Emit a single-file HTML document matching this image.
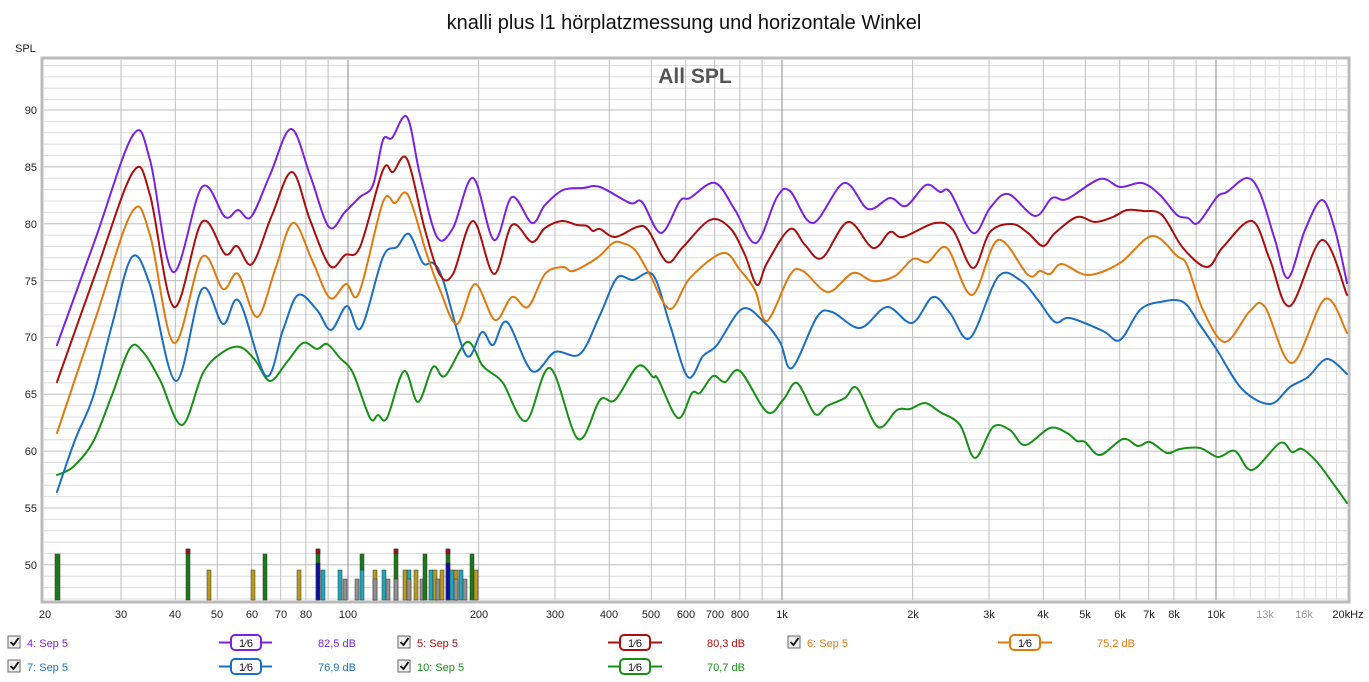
<!DOCTYPE html>
<html><head><meta charset="utf-8"><style>
html,body{margin:0;padding:0;background:#fff;}
svg{display:block;font-family:"Liberation Sans",sans-serif;}
</style></head><body>
<svg id="chart" width="1369" height="682" viewBox="0 0 1369 682" xmlns="http://www.w3.org/2000/svg">
<rect width="1369" height="682" fill="#fff"/>
<text x="684" y="29" font-size="20" text-anchor="middle" fill="#111">knalli plus l1 hörplatzmessung und horizontale Winkel</text>
<text x="15" y="52" font-size="11" fill="#222">SPL</text>
<rect x="42" y="58" width="1307" height="544" fill="#fff" stroke="#bbb" stroke-width="3"/>
<g stroke="#dcdcdc" stroke-width="1">
<path d="M44 65.5H1347M44 76.9H1347M44 88.3H1347M44 99.6H1347M44 121.4H1347M44 132.7H1347M44 144.1H1347M44 155.5H1347M44 178.2H1347M44 189.6H1347M44 201H1347M44 212.3H1347M44 235.1H1347M44 246.5H1347M44 257.8H1347M44 269.2H1347M44 291.9H1347M44 303.3H1347M44 314.7H1347M44 326H1347M44 348.8H1347M44 360.2H1347M44 371.5H1347M44 382.9H1347M44 405.6H1347M44 417H1347M44 428.4H1347M44 439.7H1347M44 462.5H1347M44 473.9H1347M44 485.2H1347M44 496.6H1347M44 519.3H1347M44 530.7H1347M44 542.1H1347M44 553.4H1347M44 576.2H1347M44 587.6H1347M44 599H1347"/>
<path d="M1234 60V600M1250.4 60V600M1265.2 60V600M1279.2 60V600M1292 60V600M1304.2 60V600M1315.6 60V600M1326.4 60V600M1336.5 60V600"/>
</g>
<g stroke="#bdbdbd" stroke-width="1">
<path d="M44 110H1347M44 166.9H1347M44 223.7H1347M44 280.6H1347M44 337.4H1347M44 394.3H1347M44 451.1H1347M44 508H1347M44 564.8H1347"/>
<path d="M121 60V600M175.3 60V600M217.3 60V600M251.7 60V600M280.7 60V600M305.9 60V600M328.1 60V600M478.6 60V600M555 60V600M609.3 60V600M651.3 60V600M685.7 60V600M714.7 60V600M739.9 60V600M762.1 60V600M912.6 60V600M989 60V600M1043.3 60V600M1085.3 60V600M1119.7 60V600M1148.7 60V600M1173.9 60V600M1196.1 60V600"/>
</g>
<path d="M348 60V600M782 60V600M1216 60V600" stroke="#888" stroke-width="1"/>
<text x="695" y="83" font-size="21" font-weight="bold" text-anchor="middle" fill="#555">All SPL</text>
<g font-size="11" fill="#222" text-anchor="end">
<text x="37" y="114">90</text><text x="37" y="171">85</text><text x="37" y="228">80</text><text x="37" y="285">75</text><text x="37" y="341">70</text><text x="37" y="398">65</text><text x="37" y="455">60</text><text x="37" y="512">55</text><text x="37" y="569">50</text>
</g>
<g font-size="11" fill="#222" text-anchor="middle">
<text x="45" y="618">20</text><text x="121" y="618">30</text><text x="175" y="618">40</text><text x="217" y="618">50</text><text x="252" y="618">60</text><text x="281" y="618">70</text><text x="306" y="618">80</text><text x="348" y="618">100</text><text x="479" y="618">200</text><text x="555" y="618">300</text><text x="609" y="618">400</text><text x="651" y="618">500</text><text x="686" y="618">600</text><text x="715" y="618">700</text><text x="740" y="618">800</text><text x="782" y="618">1k</text><text x="913" y="618">2k</text><text x="989" y="618">3k</text><text x="1043" y="618">4k</text><text x="1085" y="618">5k</text><text x="1120" y="618">6k</text><text x="1149" y="618">7k</text><text x="1174" y="618">8k</text><text x="1216" y="618">10k</text><text x="1265" y="618" fill="#999">13k</text><text x="1304" y="618" fill="#999">16k</text><text x="1348" y="618">20kHz</text>
</g>
<g stroke="#333" stroke-width="0.5">
<rect x="55" y="554" width="5" height="46" fill="#1a7a1a"/>
<rect x="186" y="549" width="4" height="51" fill="#1a7a1a"/><rect x="186" y="549" width="4" height="5" fill="#a01010"/>
<rect x="207" y="570" width="4" height="30" fill="#b89a20"/>
<rect x="251" y="570" width="4" height="30" fill="#b89a20"/>
<rect x="263" y="554" width="4" height="46" fill="#1a7a1a"/>
<rect x="297" y="570" width="4" height="30" fill="#b89a20"/>
<rect x="316" y="549" width="4" height="51" fill="#1a7a1a"/><rect x="316" y="549" width="4" height="5" fill="#a01010"/><rect x="316" y="563" width="4" height="37" fill="#1010a0"/>
<rect x="321" y="570" width="4" height="30" fill="#20a8b8"/>
<rect x="338" y="570" width="4" height="30" fill="#20a8b8"/>
<rect x="343" y="579" width="4" height="21" fill="#909090"/>
<rect x="355" y="579" width="4" height="21" fill="#909090"/>
<rect x="360" y="570" width="4" height="30" fill="#20a8b8"/>
<rect x="360" y="554" width="4" height="16" fill="#1a7a1a"/>
<rect x="373" y="570" width="4" height="30" fill="#b89a20"/><rect x="373" y="579" width="4" height="21" fill="#909090"/>
<rect x="382" y="570" width="4" height="30" fill="#20a8b8"/>
<rect x="386" y="579" width="4" height="21" fill="#909090"/>
<rect x="394" y="549" width="4" height="51" fill="#1a7a1a"/><rect x="394" y="549" width="4" height="5" fill="#a01010"/><rect x="394" y="579" width="4" height="21" fill="#909090"/>
<rect x="403" y="570" width="4" height="30" fill="#b89a20"/>
<rect x="407" y="570" width="4" height="30" fill="#20a8b8"/><rect x="407" y="579" width="4" height="21" fill="#909090"/>
<rect x="414" y="570" width="4" height="30" fill="#b89a20"/>
<rect x="420" y="579" width="4" height="21" fill="#909090"/>
<rect x="423" y="554" width="4" height="46" fill="#1a7a1a"/>
<rect x="429" y="570" width="4" height="30" fill="#20a8b8"/>
<rect x="433" y="570" width="4" height="30" fill="#b89a20"/>
<rect x="436" y="579" width="4" height="21" fill="#909090"/>
<rect x="440" y="570" width="4" height="30" fill="#b89a20"/>
<rect x="446" y="549" width="4" height="51" fill="#1a7a1a"/><rect x="446" y="549" width="4" height="5" fill="#a01010"/><rect x="446" y="563" width="4" height="37" fill="#1010a0"/>
<rect x="450" y="570" width="4" height="30" fill="#20a8b8"/>
<rect x="454" y="570" width="4" height="30" fill="#b89a20"/><rect x="454" y="579" width="4" height="21" fill="#909090"/>
<rect x="459" y="570" width="4" height="30" fill="#20a8b8"/>
<rect x="463" y="579" width="4" height="21" fill="#909090"/>
<rect x="470" y="554" width="4" height="46" fill="#1a7a1a"/>
<rect x="474" y="570" width="4" height="30" fill="#b89a20"/>
</g>
<g id="curves" fill="none" stroke-width="2" stroke-linejoin="round" stroke-linecap="round">
<polyline stroke="#189018" points="57,475 73,467 93,442 112,395 130,348 143,352 160,380 182,425 203,373 223,352 240,347 255,360 270,381 287,362 303,343 317,349 327,344 340,358 353,373 370,418 378,415 387,418 404,371 418,402 433,367 445,376 467,342 482,365 490,372 503,383 526,421 550,368 578,439 600,400 615,400 638,366 653,377 658,379 678,418 692,393 700,393 713,376 725,382 740,371 767,412 783,400 797,383 815,414 827,406 845,398 857,388 878,427 897,410 910,409 925,403 940,412 960,425 975,458 993,427 1010,430 1025,445 1050,428 1067,433 1077,441 1085,442 1100,455 1123,439 1138,446 1150,442 1167,453 1180,449 1200,448 1218,457 1235,451 1252,470 1280,443 1292,452 1302,449 1317,462 1332,482 1347,503"/>
<polyline stroke="#1a6fc4" points="57,492 75,440 93,397 112,325 132,257 150,285 176,381 202,289 223,324 239,301 266,376 283,330 298,295 317,310 331,330 347,306 361,328 383,257 397,247 409,234 423,263 433,263 443,280 466,355 482,332 493,345 507,322 532,371 555,352 580,354 600,315 617,278 633,280 653,275 670,325 688,377 703,356 717,345 742,309 763,321 780,342 792,368 817,317 832,312 860,328 887,307 912,323 933,297 950,313 970,338 998,277 1020,280 1038,300 1055,322 1070,318 1103,331 1120,340 1140,310 1160,302 1183,302 1200,325 1217,350 1242,389 1270,404 1290,387 1308,377 1327,359 1347,374"/>
<polyline stroke="#e07a10" points="57,433 95,320 132,212 150,235 174,343 202,257 223,289 238,274 257,317 275,270 293,223 312,260 330,298 346,284 359,293 383,202 395,203 408,195 427,255 440,290 457,324 475,284 495,320 512,297 528,307 545,274 563,267 573,271 597,258 613,243 622,243 635,250 650,275 670,309 690,278 723,253 740,270 755,290 767,321 790,275 803,271 828,292 853,273 873,281 895,276 913,259 928,262 947,248 972,295 998,240 1028,275 1040,271 1050,274 1062,264 1088,275 1120,263 1152,236 1177,256 1187,265 1203,310 1225,342 1250,311 1265,307 1292,363 1325,299 1347,333"/>
<polyline stroke="#aa0e0e" points="57,382 95,275 133,172 150,195 174,307 202,222 225,254 237,246 252,264 272,215 292,172 310,220 330,266 345,255 360,247 383,170 393,172 407,159 425,230 440,275 453,274 473,221 494,274 512,225 532,242 545,228 562,221 577,225 587,226 593,231 600,229 615,237 637,227 648,230 667,262 683,247 710,220 730,228 745,255 757,285 767,263 790,229 805,245 822,258 848,222 873,248 890,232 903,237 935,223 953,230 973,268 990,232 1012,224 1028,233 1043,246 1055,233 1077,217 1095,222 1113,217 1127,210 1143,211 1162,215 1183,248 1207,267 1223,247 1252,221 1270,260 1290,306 1322,240 1347,295"/>
<polyline stroke="#7b22e0" points="57,345 95,240 133,135 150,160 173,272 202,187 225,217 238,210 251,217 270,175 291,129 310,175 329,227 345,212 360,197 373,185 383,140 392,138 407,117 420,175 437,237 453,228 473,178 494,240 512,197 532,223 545,205 563,190 583,188 600,187 630,203 642,202 661,233 680,201 690,198 715,183 735,210 756,243 777,197 790,191 813,223 844,183 868,209 890,198 906,206 926,185 940,192 950,192 973,233 990,208 1008,194 1035,216 1052,198 1067,199 1100,179 1120,187 1142,183 1160,195 1177,215 1188,218 1198,223 1217,197 1227,192 1247,178 1260,193 1275,240 1288,278 1305,230 1322,200 1335,230 1347,283"/>
</g>
<g font-size="11">
<g transform="translate(8,636)"><rect x="0" y="0" width="12" height="12" fill="#eee" stroke="#666"/><path d="M2.5 6l3 3l5-7" fill="none" stroke="#111" stroke-width="1.8"/></g>
<text x="27" y="647" fill="#7b22e0">4: Sep 5</text>
<g transform="translate(398,636)"><rect x="0" y="0" width="12" height="12" fill="#eee" stroke="#666"/><path d="M2.5 6l3 3l5-7" fill="none" stroke="#111" stroke-width="1.8"/></g>
<text x="417" y="647" fill="#aa0e0e">5: Sep 5</text>
<g transform="translate(788,636)"><rect x="0" y="0" width="12" height="12" fill="#eee" stroke="#666"/><path d="M2.5 6l3 3l5-7" fill="none" stroke="#111" stroke-width="1.8"/></g>
<text x="807" y="647" fill="#e07a10">6: Sep 5</text>
<g transform="translate(8,660)"><rect x="0" y="0" width="12" height="12" fill="#eee" stroke="#666"/><path d="M2.5 6l3 3l5-7" fill="none" stroke="#111" stroke-width="1.8"/></g>
<text x="27" y="671" fill="#1a6fc4">7: Sep 5</text>
<g transform="translate(398,660)"><rect x="0" y="0" width="12" height="12" fill="#eee" stroke="#666"/><path d="M2.5 6l3 3l5-7" fill="none" stroke="#111" stroke-width="1.8"/></g>
<text x="417" y="671" fill="#189018">10: Sep 5</text>
<g stroke-width="2" fill="#fff">
<path d="M219 642.5H272" stroke="#7b22e0"/><rect x="231" y="635" width="30" height="15" rx="4" stroke="#7b22e0"/>
<path d="M608 642.5H662" stroke="#aa0e0e"/><rect x="620" y="635" width="30" height="15" rx="4" stroke="#aa0e0e"/>
<path d="M998 642.5H1052" stroke="#e07a10"/><rect x="1010" y="635" width="30" height="15" rx="4" stroke="#e07a10"/>
<path d="M219 666.5H272" stroke="#1a6fc4"/><rect x="231" y="659" width="30" height="15" rx="4" stroke="#1a6fc4"/>
<path d="M608 666.5H662" stroke="#189018"/><rect x="620" y="659" width="30" height="15" rx="4" stroke="#189018"/>
</g>
<g fill="#111" font-size="11" text-anchor="middle">
<text x="246" y="647">1⁄6</text><text x="635" y="647">1⁄6</text><text x="1025" y="647">1⁄6</text>
<text x="246" y="671">1⁄6</text><text x="635" y="671">1⁄6</text>
</g>
<text x="318" y="647" fill="#7b22e0">82,5 dB</text>
<text x="707" y="647" fill="#aa0e0e">80,3 dB</text>
<text x="1097" y="647" fill="#e07a10">75,2 dB</text>
<text x="318" y="671" fill="#1a6fc4">76,9 dB</text>
<text x="707" y="671" fill="#189018">70,7 dB</text>
</g>
</svg>
<script>
(function(){
  var NS="http://www.w3.org/2000/svg";
  var pls=document.querySelectorAll("#curves polyline");
  for(var i=0;i<pls.length;i++){
    var pl=pls[i];
    var nums=pl.getAttribute("points").trim().split(/[\s,]+/).map(Number);
    var p=[];for(var j=0;j<nums.length;j+=2)p.push([nums[j],nums[j+1]]);
    var d="M"+p[0][0]+" "+p[0][1];
    for(var k=0;k<p.length-1;k++){
      var p0=p[k>0?k-1:k],p1=p[k],p2=p[k+1],p3=p[k+2<p.length?k+2:k+1];
      var c1x=p1[0]+(p2[0]-p0[0])/6,c1y=p1[1]+(p2[1]-p0[1])/6;
      var c2x=p2[0]-(p3[0]-p1[0])/6,c2y=p2[1]-(p3[1]-p1[1])/6;
      d+="C"+c1x.toFixed(1)+" "+c1y.toFixed(1)+" "+c2x.toFixed(1)+" "+c2y.toFixed(1)+" "+p2[0]+" "+p2[1];
    }
    var path=document.createElementNS(NS,"path");
    path.setAttribute("d",d);
    path.setAttribute("stroke",pl.getAttribute("stroke"));
    pl.parentNode.replaceChild(path,pl);
  }
})();
</script>
</body></html>
